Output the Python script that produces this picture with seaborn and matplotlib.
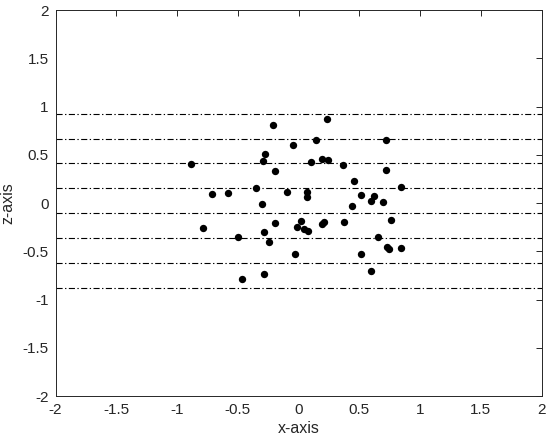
import matplotlib
matplotlib.use("Agg")
import matplotlib.pyplot as plt
import seaborn as sns
import pandas as pd

x_vals = [-0.886, -0.786, -0.712, -0.578, -0.495, -0.465, -0.347, -0.298, -0.292, -0.275,
          -0.281, -0.281, -0.240, -0.207, -0.190, -0.193, -0.096, -0.042, -0.028, -0.014,
          0.021, 0.049, 0.079, 0.068, 0.068, 0.106, 0.143, 0.189, 0.244, 0.238,
          0.197, 0.211, 0.365, 0.378, 0.453, 0.444, 0.514, 0.514, 0.593, 0.617,
          0.599, 0.650, 0.697, 0.716, 0.722, 0.728, 0.744, 0.761, 0.846, 0.843]
z_vals = [0.401, -0.259, 0.090, 0.101, -0.349, -0.784, 0.159, -0.013, 0.432, 0.505,
          -0.297, -0.739, -0.401, 0.808, 0.335, -0.207, 0.111, 0.598, -0.532, -0.249,
          -0.187, -0.269, -0.287, 0.117, 0.059, 0.425, 0.650, 0.459, 0.449, 0.870,
          -0.218, -0.200, 0.397, -0.200, 0.225, -0.034, 0.083, -0.525, 0.024, 0.076,
          -0.702, -0.352, 0.013, 0.650, 0.345, -0.453, -0.480, -0.179, 0.163, -0.466]
line_levels = [0.922, 0.666, 0.411, 0.155, -0.104, -0.363, -0.619, -0.881]
ticks = [-2, -1.5, -1, -0.5, 0, 0.5, 1, 1.5, 2]
tick_labels = ["-2", "-1.5", "-1", "-0.5", "0", "0.5", "1", "1.5", "2"]

sns.set_theme(style="white")
plt.rcParams["font.family"] = ["Liberation Sans", "DejaVu Sans"]

fig = plt.figure(figsize=(5.5, 4.43), dpi=100)
ax = fig.add_axes([0.101, 0.106, 0.8836, 0.8714])

df = pd.DataFrame({"x": x_vals, "z": z_vals})
for lv in line_levels:
    ax.axhline(lv, color="black", linestyle=(0, (5.5, 2.2, 1.2, 2.2)), linewidth=0.8, zorder=1)
sns.scatterplot(data=df, x="x", y="z", ax=ax, color="black", s=28, edgecolor="black",
                linewidth=0, zorder=3)

ax.set_xlim(-2, 2)
ax.set_ylim(-2, 2)
ax.set_xticks(ticks)
ax.set_xticklabels(tick_labels)
ax.set_yticks(ticks)
ax.set_yticklabels(tick_labels)
ax.set_xlabel("x-axis", fontsize=11.5, color="#262626", labelpad=3)
ax.set_ylabel("z-axis", fontsize=11.5, color="#262626", labelpad=5)
ax.tick_params(direction="in", length=4, width=0.7, top=True, right=True,
               labelsize=11, colors="#262626", pad=5)
for sp in ax.spines.values():
    sp.set_visible(True)
    sp.set_color("#262626")
    sp.set_linewidth(0.7)

fig.savefig("out.png", dpi=100)
